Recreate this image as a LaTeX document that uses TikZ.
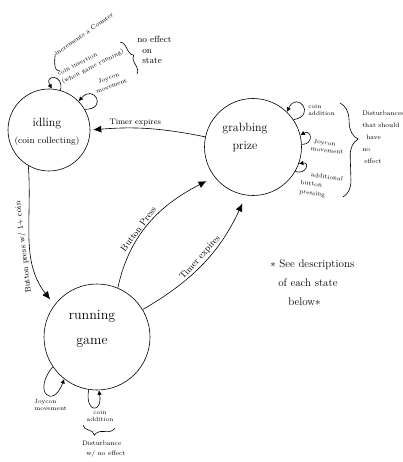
\documentclass[tikz,border=0pt]{standalone}
\usetikzlibrary{arrows.meta,decorations.pathreplacing}
\begin{document}
\begin{tikzpicture}[
    x=1pt,y=-1pt,line width=.6pt,
    state/.style={circle,draw,inner sep=0pt},
    title/.style={align=center,inner sep=0pt},
    trans/.style={-{Latex[length=8pt,width=7pt]}},
    selfloop/.style={-{Latex[length=4.5pt,width=4.5pt]}},
    lbl/.style={font=\fontsize{8}{9}\selectfont,inner sep=1.5pt},
    note/.style={font=\fontsize{6}{7.5}\selectfont,inner sep=0pt,align=left},
    brc/.style={decorate,decoration={brace,amplitude=#1}}]
    \useasboundingbox (0,0) rectangle (403,462);

    \node[state,minimum size=82pt] (idle) at (49,130) {};
    \node[state,minimum size=97pt] (grab) at (253,147) {};
    \node[state,minimum size=106pt] (run) at (97,337) {};
    \node[title,font=\fontsize{12}{17}\selectfont] (idletext) at (47,132)
        {idling\\{\fontsize{9}{11}\selectfont (coin collecting)}};
    \node[title,font=\fontsize{12}{18}\selectfont] (grabtext) at (245,138) {grabbing\\prize};
    \node[title,font=\fontsize{14}{25}\selectfont] (runtext) at (92,329) {running\\game};

    \draw[trans,shorten >=3pt] (grab.168) to[bend right=8]
        node[lbl,above,pos=.62] {Timer expires} (idle.0);
    \draw[trans,shorten >=7pt] (idle.240) to[out=-86,in=128]
        node[lbl,sloped,rotate=180,anchor=south,inner sep=3pt,pos=.55] {Button press w/ 1+ coin} (run.143);
    \draw[trans,shorten >=9pt] (run.67) to[out=78,in=207]
        node[lbl,sloped,above,pos=.4,font=\fontsize{9}{10}\selectfont] {Button Press} (grab.218);
    \draw[trans,shorten >=9pt] (run.31) to[out=30,in=245]
        node[lbl,sloped,above,pos=.5,font=\fontsize{9}{10}\selectfont] {Timer expires} (grab.262);

    \draw[selfloop] (idle.74) to[out=75,in=120,looseness=5] (idle.86);
    \draw[selfloop] (idle.30) to[out=0,in=50,looseness=6] (idle.44);
    \draw[selfloop] (grab.34) to[out=10,in=65,looseness=6] (grab.46);
    \draw[selfloop] (grab.3) to[out=0,in=30,looseness=3.5] (grab.14);
    \draw[selfloop] (grab.-30) to[out=-20,in=10,looseness=3.5] (grab.-20);
    \draw[selfloop] (run.214) to[out=230,in=250,looseness=5] (run.232);
    \draw[selfloop] (run.261) to[out=260,in=280,looseness=6] (run.272);

    \node[note,rotate=35,font=\fontsize{6.5}{8}\selectfont] (incr) at (84,34) {increments a Counter};
    \node[note,rotate=27,font=\fontsize{6}{9}\selectfont] (coinins) at (91,63)
        {coin insertion\\(when game running)};
    \node[note,rotate=20,align=center,font=\fontsize{6}{8.5}\selectfont] (joyidle) at (110,82)
        {Joycon\\movement};
    \node[note,anchor=north west,font=\fontsize{9}{10.5}\selectfont] (noeff) at (137,36)
        {no effect\\\hspace*{5pt}on\\\hspace*{5pt}state};
    \coordinate (hookend) at (60,71);
    \draw (incr.west) to[out=-95,in=180] (hookend);
    \coordinate (idlebrA) at (120,42);
    \coordinate (idlebrB) at (137,74);
    \draw[brc=6pt] (idlebrA) -- (idlebrB);

    \node[note,anchor=west] (coinadd) at (308,110) {coin\\addition};
    \node[note,anchor=west,rotate=-6] (joygrab) at (311,145) {\hspace*{2pt}Joycon\\movement};
    \node[note,anchor=north west,rotate=-8,font=\fontsize{6}{9}\selectfont] (addbtn) at (302,171)
        {\hspace*{9pt}additional\\button\\pressing};
    \coordinate (grabbrA) at (340,103);
    \coordinate (grabbrB) at (343,197);
    \draw[brc=17pt,decoration={aspect=.39}] (grabbrA) -- (grabbrB);
    \node[note,anchor=north west,font=\fontsize{6.5}{12}\selectfont] (disturb) at (362,111)
        {Disturbances\\that should\\\hspace*{4pt}have\\no\\\hspace*{2pt}effect};

    \node[note,anchor=north west] (joyrun) at (34,399) {Joycon\\movement};
    \node[note,align=center] (coinrun) at (100,416) {coin\\addition};
    \coordinate (runbrA) at (83,425);
    \coordinate (runbrB) at (115,428);
    \draw[brc=9pt,decoration={mirror,aspect=.38}] (runbrA) -- (runbrB);
    \node[note,anchor=north west,font=\fontsize{6.5}{10}\selectfont] (distrun) at (82,441)
        {Disturbance\\\hspace*{4pt}w/ no effect};

    \node[note,anchor=north west,font=\fontsize{11}{19}\selectfont] (descr) at (270,259)
        {$\ast$ See descriptions\\\hspace*{8pt}of each state\\\hspace*{18pt}below$\ast$};
\end{tikzpicture}
\end{document}
